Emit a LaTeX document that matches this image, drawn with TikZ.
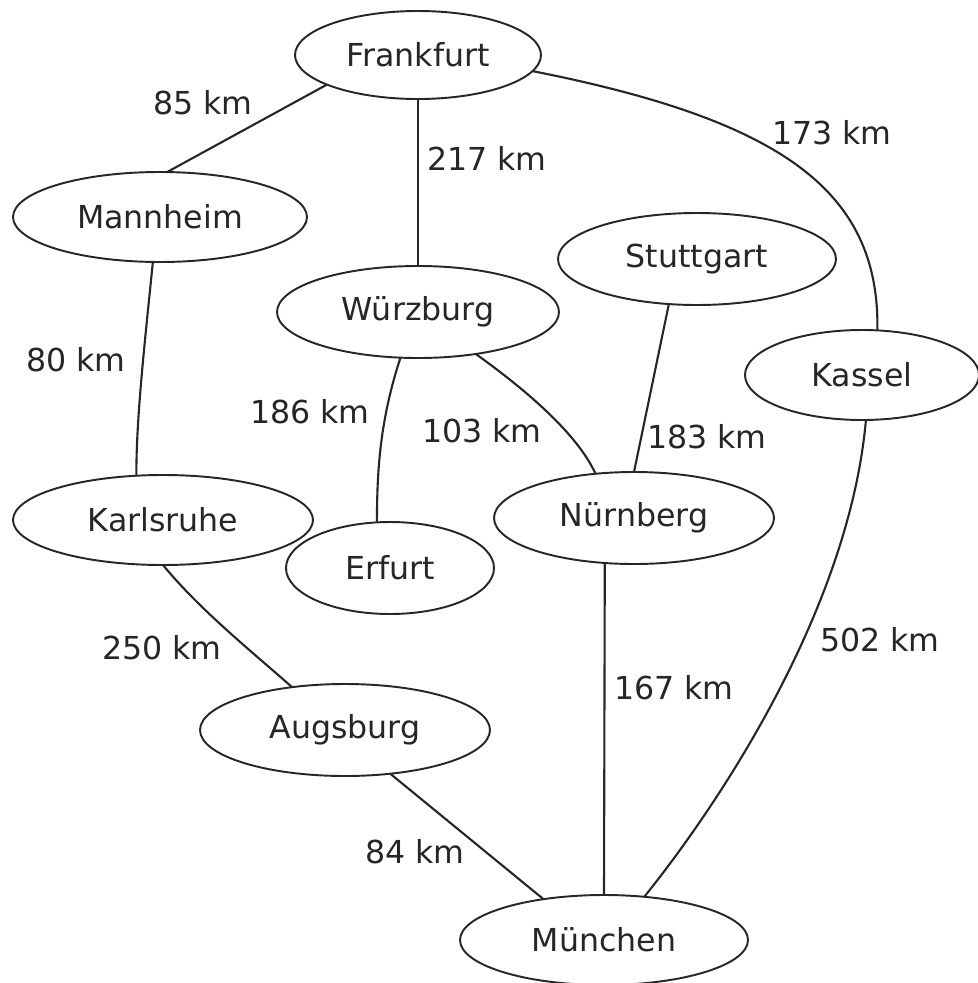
\documentclass[tikz,border=0pt]{standalone}
\usepackage{fontspec}
\setmainfont{DejaVu Sans}
\usetikzlibrary{shapes.geometric}
\begin{document}
\begin{tikzpicture}[x=0.1mm,y=-0.1mm,
  city/.style={draw=black!85,line width=0.55pt,ellipse,inner sep=0pt,outer sep=0pt,font=\fontsize{9}{11}\selectfont,text=black!85},
  dist/.style={inner sep=0pt,font=\fontsize{9}{11}\selectfont,text=black!85},
  road/.style={draw=black!85,line width=0.6pt}]
\useasboundingbox (0,0) rectangle (978,983);
\node[city,minimum width=24.6mm,minimum height=8.8mm] (fra) at (418,55) {Frankfurt};
\node[city,minimum width=29.4mm,minimum height=9.0mm] (man) at (160,217) {Mannheim};
\node[city,minimum width=28.2mm,minimum height=9.2mm] (wue) at (418,312) {Würzburg};
\node[city,minimum width=27.8mm,minimum height=9.2mm] (stu) at (697,259) {Stuttgart};
\node[city,minimum width=23.4mm,minimum height=9.0mm] (kas) at (862,375) {Kassel};
\node[city,minimum width=30.0mm,minimum height=9.0mm] (kar) at (163,520) {Karlsruhe};
\node[city,minimum width=20.8mm,minimum height=9.2mm] (erf) at (390,568) {Erfurt};
\node[city,minimum width=28.0mm,minimum height=9.2mm] (nue) at (634,518) {Nürnberg};
\node[city,minimum width=29.0mm,minimum height=9.2mm] (aug) at (345,730) {Augsburg};
\node[city,minimum width=28.8mm,minimum height=9.0mm] (mue) at (604,940) {München};

\draw[road] (fra.198) -- (man.81);
\draw[road] (fra.south) -- (wue.north);
\draw[road] (fra.-8) .. controls (780,120) and (880,190) .. (kas.71);
\draw[road] (man.-99) .. controls (145,340) and (136,420) .. (kar.121);
\draw[road] (wue.-111) .. controls (380,420) and (377,470) .. (erf.106);
\draw[road] (wue.-36) .. controls (540,400) and (580,440) .. (nue.131);
\draw[road] (stu.-122) -- (nue.90);
\draw[road] (kas.-85) .. controls (850,600) and (730,790) .. (mue.47);
\draw[road] (kar.-90) .. controls (200,610) and (250,650) .. (aug.141);
\draw[road] (nue.-123) -- (mue.90);
\draw[road] (aug.-44) -- (mue.146);

\node[dist] (l1) at (203,103) {85 km};
\node[dist] (l2) at (487,158) {217 km};
\node[dist] (l3) at (832,133) {173 km};
\node[dist] (l4) at (76,360) {80 km};
\node[dist] (l5) at (310,412) {186 km};
\node[dist] (l6) at (482,431) {103 km};
\node[dist] (l7) at (707,437) {183 km};
\node[dist] (l8) at (880,640) {502 km};
\node[dist] (l9) at (162,648) {250 km};
\node[dist] (l10) at (674,688) {167 km};
\node[dist] (l11) at (415,852) {84 km};
\end{tikzpicture}
\end{document}
